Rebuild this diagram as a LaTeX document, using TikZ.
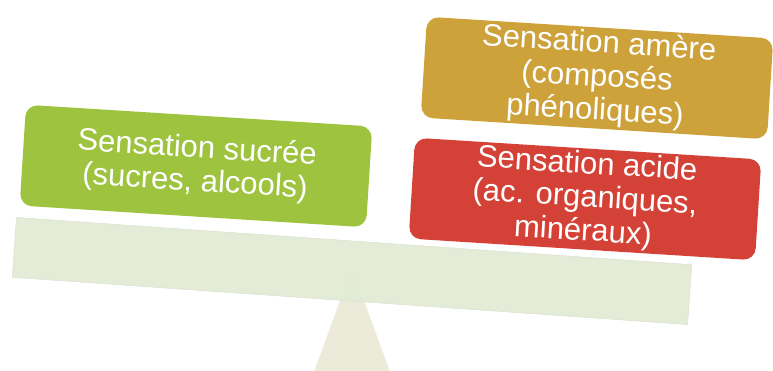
\documentclass[tikz,border=0pt]{standalone}
\usepackage{fontspec}
\setmainfont{Liberation Sans}
\usetikzlibrary{positioning}
\definecolor{vert}{HTML}{9DC33F}
\definecolor{ocre}{HTML}{CEA23A}
\definecolor{rouge}{HTML}{D44237}
\definecolor{plateau}{HTML}{E2EBD6}
\definecolor{socle}{HTML}{ECEBDA}
\begin{document}
\begin{tikzpicture}[x=1pt,y=1pt,
    boite/.style={rectangle,rounded corners=12pt,fill=#1,text=white,align=center,
        minimum width=347pt,minimum height=101pt,rotate=-3.6,inner sep=0pt,
        font=\fontsize{31}{33.5}\selectfont}]
    \clip (0,0) rectangle (773,-370);
    % socle et plateau de la balance
    \fill[socle] (352,-268) -- (311,-380) -- (393,-380) -- cycle;
    \node[fill=plateau,draw=plateau!95!black,fill opacity=0.94,
        minimum width=677pt,minimum height=60pt,rotate=-4] (plateau) at (352,-271) {};
    % sensations
    \node[boite=vert] (sucre) at (196,-166) {Sensation sucrée\\(sucres, alcools)};
    \node[boite=ocre] (amer) at (597,-78) {Sensation amère\\(composés\\phénoliques)};
    \node[boite=rouge] (acide) at (585,-199) {Sensation acide\\(ac. organiques,\\minéraux)};
\end{tikzpicture}
\end{document}
